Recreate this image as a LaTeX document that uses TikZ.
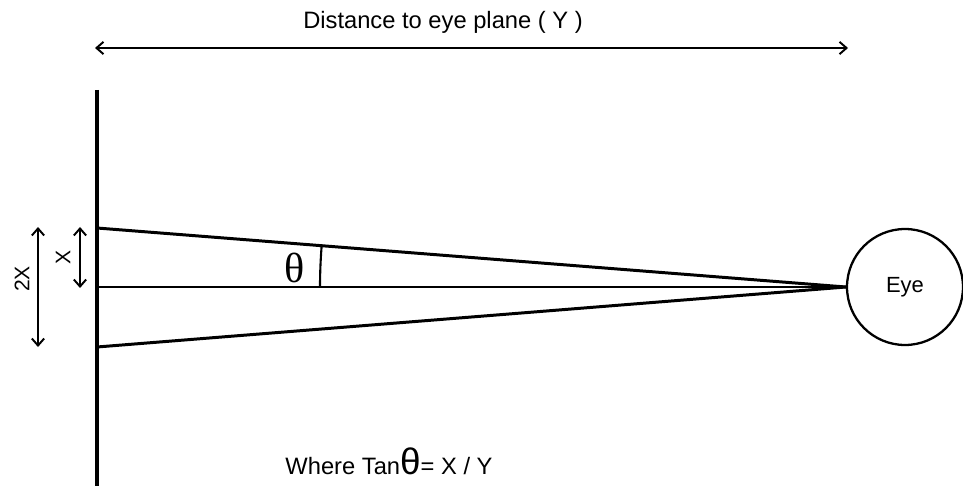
\documentclass[tikz,border=0pt]{standalone}
\usepackage{fontspec}
\setmainfont{Liberation Sans}
\newfontfamily\thetafont{Liberation Serif}
\usetikzlibrary{arrows.meta}

\begin{document}
\begin{tikzpicture}[x=0.02cm, y=-0.02cm, >={Straight Barb[length=4pt, width=7pt]}]
    % Units: 1 = one pixel of the 963 x 486 frame, y grows downward
    \useasboundingbox (0,0) rectangle (963,486);

    % Points on the plane
    \coordinate (wallTop) at (97,90);
    \coordinate (wallBot) at (97,486);
    \coordinate (P1) at (97,228);
    \coordinate (P0) at (97,287);
    \coordinate (P2) at (97,347);

    % Eye
    \node[draw, circle, line width=1.3pt, minimum size=2.32cm,
          font=\fontsize{12.5}{14}\selectfont] (eye) at (905,287) {Eye};

    % Plane
    \draw[line width=2.8pt] (wallTop) -- (wallBot);

    % Rays to the eye
    \draw[line width=1.7pt] (P1) -- (eye.west);
    \draw[line width=1.7pt] (P0) -- (eye.west);
    \draw[line width=1.7pt] (P2) -- (eye.west);

    % Angle theta
    \draw[line width=1.2pt] (320,287) arc[start angle=180, end angle=175.49, radius=10.5cm];
    \node[font=\thetafont\fontsize{24}{24}\selectfont] (theta) at (295,268) {θ};

    % Distance to eye plane
    \coordinate (distL) at (95,48);
    \coordinate (distR) at (848,48);
    \draw[<->, line width=1.1pt] (distL) -- (distR);
    \node[font=\fontsize{13.5}{15}\selectfont] (distLabel) at (443,22) {Distance to eye plane ( Y )};

    % X and 2X
    \coordinate (xTop) at (80,227);
    \coordinate (xBot) at (80,288);
    \coordinate (xxTop) at (38,227);
    \coordinate (xxBot) at (38,347);
    \draw[<->, line width=1.1pt] (xTop) -- (xBot);
    \draw[<->, line width=1.1pt] (xxTop) -- (xxBot);
    \node[rotate=90, font=\fontsize{12}{14}\selectfont] (xLabel) at (63,257) {X};
    \node[rotate=90, font=\fontsize{12}{14}\selectfont] (xxLabel) at (22,279) {2X};

    % Formula
    \node[font=\fontsize{13.5}{15}\selectfont] (formula) at (389,461)
        {Where Tan{\fontsize{21}{21}\selectfont θ}= X / Y};
\end{tikzpicture}
\end{document}
